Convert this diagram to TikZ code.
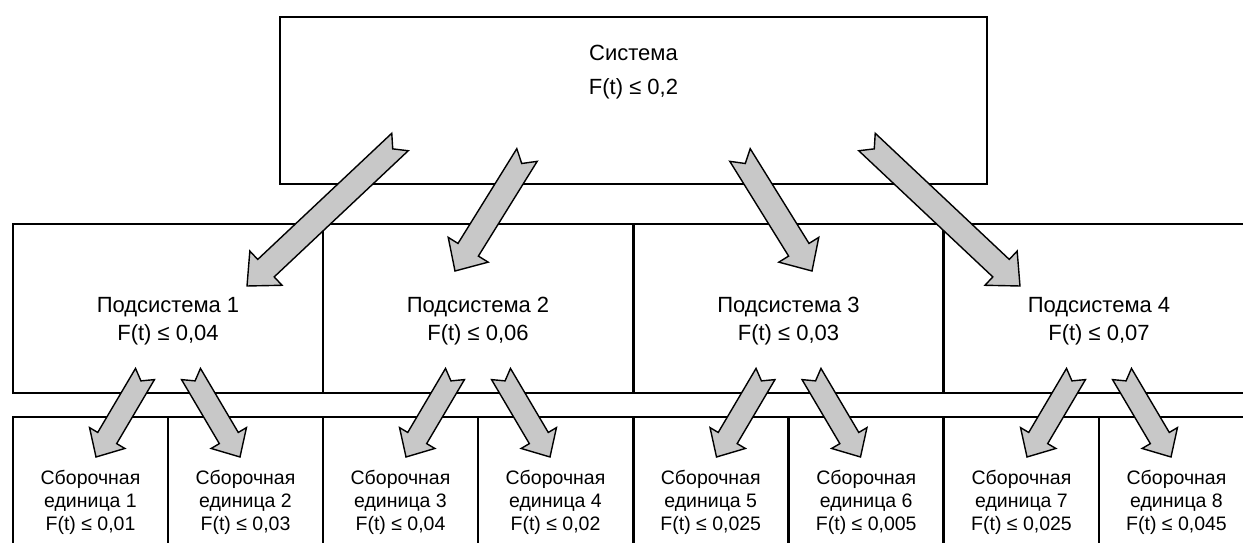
\documentclass[tikz,border=0pt]{standalone}
\usepackage{fontspec}
\setmainfont{Liberation Sans}
\usetikzlibrary{calc}
\definecolor{arrowgray}{RGB}{200,200,200}
\tikzset{
  box/.style={draw=black, line width=2.8pt, rectangle, inner sep=0pt, outer sep=0pt},
  toptext/.style={align=center, font=\fontsize{22}{34}\selectfont, inner sep=0pt},
  midtext/.style={align=center, font=\fontsize{22}{28}\selectfont, inner sep=0pt},
  bottext/.style={align=center, font=\fontsize{19.5}{23}\selectfont, inner sep=0pt},
  blockarrow/.style={draw=black, line width=1.4pt, fill=arrowgray, line join=miter},
}
% block arrow with notched tail: tail, tip, half shaft, half head, head length, notch depth
\newcommand\blockarr[6]{%
  \pgfpointdiff{\pgfpointanchor{#1}{center}}{\pgfpointanchor{#2}{center}}%
  \pgfgetlastxy{\bdx}{\bdy}%
  \pgfmathsetmacro\bang{atan2(\bdy,\bdx)}%
  \pgfmathsetmacro\blen{veclen(\bdx,\bdy)}%
  \pgfmathsetmacro\bbase{\blen-#5}%
  \begin{scope}[shift={(#1)}, rotate=\bang, x=1pt, y=1pt]
    \draw[blockarrow] (0,#3) -- (\bbase,#3) -- (\bbase,#4) -- (\blen,0) -- (\bbase,-#4) -- (\bbase,-#3) -- (0,-#3) -- (#6,0) -- cycle;
  \end{scope}}
\begin{document}
\begin{tikzpicture}[x=1pt, y=-1pt]
\useasboundingbox (0,0) rectangle (1243,542);
\clip (0,0) rectangle (1243,542);
% top system box
\node[box, minimum width=707pt, minimum height=167pt] (sys) at (633.5,100.5) {};
\node[toptext] (systxt) at (633.5,72) {Система\\F(t) ≤ 0,2};
% subsystems
\foreach \i/\cx in {1/168, 2/478, 3/788.5, 4/1099}{
  \node[box, minimum width=310pt, minimum height=169pt] (sub\i) at (\cx,308.5) {};
}
\node[midtext] (sub1txt) at (168,321) {Подсистема 1\\F(t) ≤ 0,04};
\node[midtext] (sub2txt) at (478,321) {Подсистема 2\\F(t) ≤ 0,06};
\node[midtext] (sub3txt) at (788.5,321) {Подсистема 3\\F(t) ≤ 0,03};
\node[midtext] (sub4txt) at (1099,321) {Подсистема 4\\F(t) ≤ 0,07};
% assembly units
\foreach \i/\cx in {1/90.5, 2/245.5, 3/400.5, 4/555.5, 5/710.75, 6/866.25, 7/1021.5, 8/1176.5}{
  \node[box, minimum width=155pt, minimum height=180pt] (u\i) at (\cx,507) {};
}
\node[bottext] (u1txt) at (90.5,502) {Сборочная\\единица 1\\F(t) ≤ 0,01};
\node[bottext] (u2txt) at (245.5,502) {Сборочная\\единица 2\\F(t) ≤ 0,03};
\node[bottext] (u3txt) at (400.5,502) {Сборочная\\единица 3\\F(t) ≤ 0,04};
\node[bottext] (u4txt) at (555.5,502) {Сборочная\\единица 4\\F(t) ≤ 0,02};
\node[bottext] (u5txt) at (710.75,502) {Сборочная\\единица 5\\F(t) ≤ 0,025};
\node[bottext] (u6txt) at (866.25,502) {Сборочная\\единица 6\\F(t) ≤ 0,005};
\node[bottext] (u7txt) at (1021.5,502) {Сборочная\\единица 7\\F(t) ≤ 0,025};
\node[bottext] (u8txt) at (1176.5,502) {Сборочная\\единица 8\\F(t) ≤ 0,045};
% arrow end points: system -> subsystems
\coordinate (s1t) at (400,142); \coordinate (s1h) at (247,286);
\coordinate (s2t) at (527,155); \coordinate (s2h) at (455,271);
\coordinate (s3t) at (740,155); \coordinate (s3h) at (812,271);
\coordinate (s4t) at (867,142); \coordinate (s4h) at (1020,286);
\blockarr{s1t}{s1h}{12}{23.5}{26}{10}
\blockarr{s2t}{s2h}{12}{23.5}{25}{10}
\blockarr{s3t}{s3h}{12}{23.5}{25}{10}
\blockarr{s4t}{s4h}{12}{23.5}{26}{10}
% subsystems -> assembly units
\foreach \k/\cx in {1/168, 2/478, 3/788.5, 4/1099}{
  \coordinate (l\k t) at ({\cx-23},374); \coordinate (l\k h) at ({\cx-72},457);
  \coordinate (r\k t) at ({\cx+23},374); \coordinate (r\k h) at ({\cx+72},457);
}
\foreach \k in {1,2,3,4}{
  \blockarr{l\k t}{l\k h}{11}{20.5}{22}{8}
  \blockarr{r\k t}{r\k h}{11}{20.5}{22}{8}
}
\end{tikzpicture}
\end{document}
